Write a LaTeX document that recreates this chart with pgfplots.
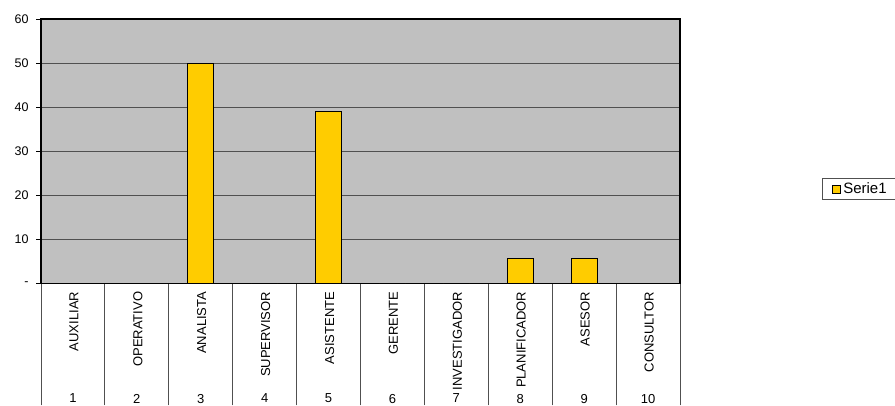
\documentclass[border=0pt]{standalone}
\usepackage{pgfplots}
\pgfplotsset{compat=1.18}
\usepackage{fontspec}
\setmainfont{Liberation Sans}
\definecolor{plotbg}{HTML}{C0C0C0}
\definecolor{baryellow}{HTML}{FFCC00}
\definecolor{gridgray}{HTML}{505050}
\begin{document}
\begin{tikzpicture}
\begin{axis}[
  at={(41pt,121.7pt)}, anchor=south west,
  scale only axis, width=639pt, height=264.3pt,
  xmin=0.5, xmax=10.5, ymin=0, ymax=60,
  axis background/.style={fill=plotbg},
  axis line style={black, line width=1.3pt},
  ybar, bar width=26pt,
  tick align=outside,
  major tick length=5pt,
  minor tick length=122pt,
  xtick pos=bottom, ytick pos=left,
  xtick={1,...,10},
  xticklabels={AUXILIAR,OPERATIVO,ANALISTA,SUPERVISOR,ASISTENTE,GERENTE,INVESTIGADOR,PLANIFICADOR,ASESOR,CONSULTOR},
  x tick label style={rotate=90, anchor=east, yshift=-1pt, font=\fontsize{13}{15}\selectfont},
  major x tick style={draw=none},
  minor xtick={0.5,1.5,...,10.5},
  minor x tick style={draw=gridgray, line width=0.9pt},
  ytick={0,10,...,60},
  yticklabels={{-\hspace{13pt}},10,20,30,40,50,60},
  y tick label style={font=\fontsize{12.5}{14}\selectfont, xshift=-4pt},
  major y tick style={black, line width=0.8pt},
  ymajorgrids,
  major grid style={gridgray, line width=1pt},
  legend style={at={(axis description cs:1.2222,0.3984)}, anchor=north west,
    draw=gridgray, fill=white, line width=0.8pt, font=\fontsize{15}{17}\selectfont,
    inner xsep=10pt, inner ysep=2.5pt},
  legend image code/.code={\draw[#1, line width=0.9pt] (0pt,-4.5pt) rectangle (8pt,3.5pt);},
]
\addplot[fill=baryellow, draw=black, line width=1.1pt]
  coordinates {(1,0) (2,0) (3,50) (4,0) (5,38.9) (6,0) (7,0) (8,5.6) (9,5.6) (10,0)};
\addlegendentry{Serie1}
\end{axis}
\begin{axis}[
  at={(41pt,121.7pt)}, anchor=south west,
  scale only axis, width=639pt, height=264.3pt,
  xmin=0.5, xmax=10.5, ymin=0, ymax=60,
  axis x line=bottom, axis y line=none,
  x axis line style={draw=none},
  xtick={1,...,10},
  xticklabels={1,2,3,4,5,6,7,8,9,10},
  xtick style={draw=none},
  x tick label style={anchor=north, yshift=-105pt, font=\fontsize{13}{15}\selectfont},
  ytick=\empty,
]
\addplot[draw=none] coordinates {(1,0) (10,0)};
\end{axis}
\pgfresetboundingbox
\useasboundingbox (0,0) rectangle (895pt,405pt);
\end{tikzpicture}
\end{document}
